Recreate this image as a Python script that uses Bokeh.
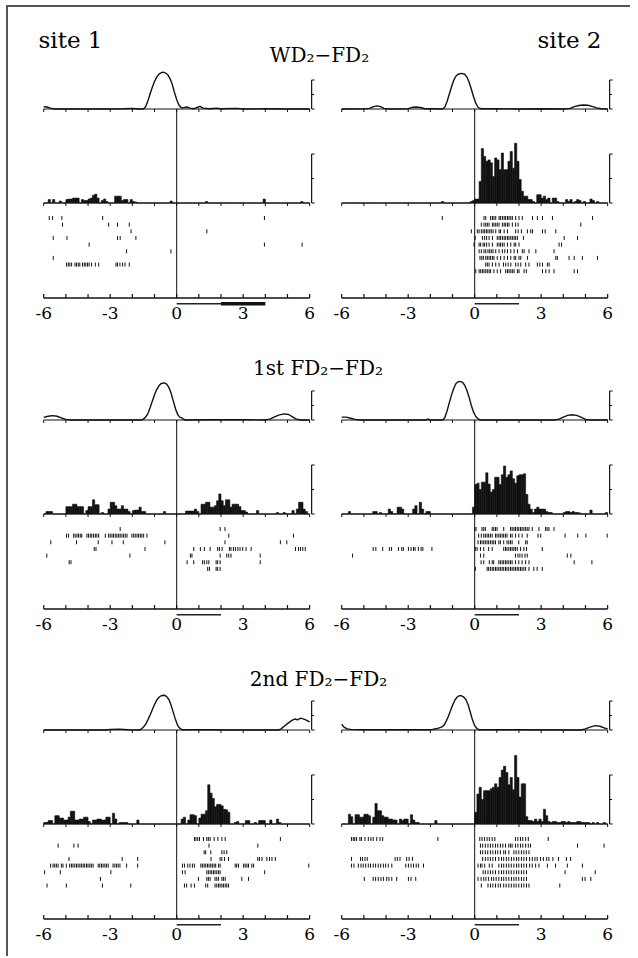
from bokeh.plotting import figure
from bokeh.models import Range1d, FixedTicker, Spacer
from bokeh.layouts import column, row
from bokeh.embed import file_html
from bokeh.resources import INLINE
from bokeh.core.properties import value

# ---------------- data ----------------
BIN_START = -6.0
BIN_WIDTH = 0.1
UNIT_TICKS = list(range(-6, 7))
LABEL_TICKS = [-6, -3, 0, 3, 6]
STIM_BAR = [0.0, 2.0]
DELAY_BAR = [2.0, 4.0]
CURVE_SCALE = 1.0
HIST_SCALE = 10.0

SITE_LABELS = ["site 1", "site 2"]
ROW_TITLES = ["WD\u2082\u2212FD\u2082", "1st FD\u2082\u2212FD\u2082", "2nd FD\u2082\u2212FD\u2082"]

# smooth traces (x in s, y in scale-bar units)
C1_X = [-6.0, -5.85, -5.7, -5.5, -4.0, -3.0, -2.4, -2.0, -1.7, -1.5, -1.4, -1.3, -1.2, -1.1, -1.0, -0.9, -0.8, -0.7, -0.6, -0.5, -0.4, -0.3, -0.2, -0.1, 0.0, 0.1, 0.2, 0.3, 0.45, 0.6, 0.8, 0.95, 1.05, 1.2, 1.5, 1.8, 2.0, 2.7, 3.0, 4.0, 5.0, 6.0]
C1_Y = [0.08, 0.07, 0.03, 0.0, 0.0, 0.0, 0.01, 0.02, 0.0, 0.0, 0.08, 0.28, 0.52, 0.75, 0.95, 1.1, 1.2, 1.25, 1.27, 1.24, 1.18, 1.05, 0.85, 0.57, 0.33, 0.14, 0.05, 0.04, 0.07, 0.03, 0.01, 0.06, 0.09, 0.03, 0.01, 0.03, 0.01, 0.02, 0.0, 0.01, 0.0, 0.0]

C2_X = [-6.0, -5.0, -4.75, -4.55, -4.4, -4.25, -4.1, -3.8, -3.0, -2.85, -2.65, -2.45, -2.25, -1.8, -1.45, -1.35, -1.25, -1.15, -1.05, -0.95, -0.85, -0.75, -0.6, -0.45, -0.35, -0.25, -0.15, -0.05, 0.05, 0.15, 0.27, 1.0, 2.0, 3.0, 4.0, 4.3, 4.5, 4.7, 4.9, 5.1, 5.3, 5.5, 5.7, 6.0]
C2_Y = [0.0, 0.01, 0.02, 0.08, 0.11, 0.08, 0.02, 0.0, 0.01, 0.05, 0.07, 0.05, 0.01, 0.01, 0.0, 0.06, 0.25, 0.5, 0.75, 0.98, 1.13, 1.2, 1.23, 1.2, 1.1, 0.92, 0.68, 0.42, 0.2, 0.06, 0.01, 0.01, 0.0, 0.01, 0.0, 0.02, 0.08, 0.12, 0.14, 0.13, 0.09, 0.04, 0.01, 0.0]

C3_X = [-6.0, -5.8, -5.6, -5.4, -5.2, -5.0, -4.8, -1.6, -1.5, -1.4, -1.3, -1.2, -1.1, -1.0, -0.9, -0.8, -0.7, -0.56, -0.45, -0.35, -0.25, -0.15, -0.05, 0.05, 0.15, 0.22, 0.3, 0.4, 1.5, 3.0, 4.0, 4.2, 4.4, 4.6, 4.85, 5.05, 5.25, 5.4, 5.6, 6.0]
C3_Y = [0.09, 0.13, 0.15, 0.13, 0.07, 0.02, 0.0, 0.0, 0.03, 0.1, 0.22, 0.42, 0.65, 0.87, 1.05, 1.18, 1.26, 1.28, 1.24, 1.12, 0.92, 0.65, 0.38, 0.18, 0.09, 0.08, 0.03, 0.0, 0.01, 0.01, 0.0, 0.03, 0.1, 0.17, 0.21, 0.19, 0.1, 0.03, 0.0, 0.0]

C4_X = [-6.0, -5.8, -5.6, -5.4, -5.2, -2.2, -2.1, -2.0, -1.45, -1.35, -1.25, -1.15, -1.05, -0.95, -0.85, -0.75, -0.65, -0.55, -0.45, -0.35, -0.25, -0.15, -0.05, 0.05, 0.15, 0.26, 3.6, 3.8, 4.0, 4.2, 4.4, 4.6, 4.8, 5.0, 5.2, 6.0]
C4_Y = [0.1, 0.1, 0.06, 0.02, 0.0, 0.0, 0.03, 0.0, 0.0, 0.08, 0.3, 0.58, 0.85, 1.08, 1.25, 1.32, 1.33, 1.3, 1.2, 1.02, 0.78, 0.5, 0.27, 0.12, 0.04, 0.0, 0.0, 0.03, 0.1, 0.16, 0.18, 0.16, 0.1, 0.02, 0.0, 0.0]

C5_X = [-6.0, -3.2, -3.0, -2.6, -2.2, -1.7, -1.6, -1.5, -1.4, -1.3, -1.2, -1.1, -1.0, -0.9, -0.8, -0.7, -0.56, -0.45, -0.35, -0.25, -0.15, -0.05, 0.05, 0.15, 0.25, 1.5, 2.5, 4.6, 4.7, 4.85, 5.0, 5.2, 5.35, 5.45, 5.6, 5.8, 6.0]
C5_Y = [0.0, 0.0, 0.02, 0.03, 0.01, 0.0, 0.03, 0.1, 0.2, 0.35, 0.52, 0.7, 0.88, 1.03, 1.13, 1.18, 1.2, 1.15, 1.05, 0.85, 0.6, 0.35, 0.15, 0.05, 0.01, 0.01, 0.0, 0.0, 0.03, 0.13, 0.22, 0.33, 0.38, 0.35, 0.41, 0.36, 0.28]

C6_X = [-6.0, -5.9, -5.75, -5.6, -5.0, -2.0, -1.9, -1.7, -1.5, -1.4, -1.3, -1.2, -1.1, -1.0, -0.9, -0.8, -0.7, -0.6, -0.5, -0.4, -0.3, -0.2, -0.1, 0.0, 0.1, 0.2, 2.0, 4.8, 5.0, 5.2, 5.45, 5.65, 5.85, 6.0]
C6_Y = [0.2, 0.1, 0.04, 0.02, 0.01, 0.01, 0.02, 0.05, 0.1, 0.15, 0.28, 0.45, 0.65, 0.85, 1.02, 1.13, 1.18, 1.18, 1.14, 1.05, 0.88, 0.62, 0.35, 0.15, 0.05, 0.01, 0.01, 0.0, 0.04, 0.1, 0.15, 0.13, 0.07, 0.04]

# histograms, 0.1 s bins from -6 to 6 (units: scale bar = 10)
H1 = [0, 0, .7, 0, .7, 0, 0, .4, 0, 0,
      .7, .8, .8, 1.0, 1.0, 1.0, 0, .7, .5, .5,
      .8, 1.0, 1.6, 1.8, 1.0, 0, .5, .8, .3, 0,
      0, 0, 1.4, 1.4, 1.4, .5, .7, .7, 0, .7,
      .3, .2, 0, 0, 0, 0, 0, 0, 0, 0,
      0, 0, 0, 0, 0, 0, 0, .4, 0, 0,
      0, 0, 0, 0, 0, 0, 0, 0, 0, 0,
      0, 0, 0, .3, 0, 0, 0, 0, 0, 0,
      0, 0, 0, 0, 0, 0, 0, 0, 0, 0,
      0, 0, 0, 0, 0, 0, 0, 0, 0, .8,
      0, 0, 0, 0, 0, 0, 0, 0, 0, 0,
      0, 0, 0, 0, 0, 0, .3, 0, 0, 0]
H2 = [0, 0, 0, 0, 0, 0, 0, 0, 0, 0,
      0, 0, 0, 0, 0, 0, 0, 0, 0, 0,
      0, 0, 0, 0, 0, 0, 0, 0, 0, 0,
      0, 0, 0, 0, 0, 0, 0, 0, 0, 0,
      0, 0, 0, 0, 0, .3, 0, 0, 0, 0,
      0, 0, 0, 0, 0, 0, 0, 0, .3, .5,
      .8, .8, 4.4, 11.1, 9.5, 8.5, 8.8, 8.2, 5.4, 9.2,
      8.8, 6.8, 10.2, 6.8, 6.8, 8.5, 10.5, 7.1, 12.2, 8.5,
      4.8, 2.4, 1.4, 1.4, .7, .7, .3, 0, 1.7, 1.7,
      1.0, 1.4, .7, 1.0, 0, 1.0, 1.0, .3, 0, 0,
      0, .7, .3, .7, 0, .3, .7, .5, 0, .3,
      0, 0, .8, .5, 0, .3, 0, 0, 0, 0]
H3 = [0, .5, .5, .5, 0, 0, 0, 0, 0, 0,
      1.5, 1.5, 1.5, 2.0, 2.0, 1.5, 1.5, 1.5, 0, .7,
      1.5, 1.5, 2.9, 1.9, 1.9, 0, .3, 0, 0, 1.0,
      2.4, 2.4, 1.7, 1.0, 1.0, 1.7, 1.0, 1.0, .5, 0,
      .7, .8, .8, 1.4, .5, .5, 0, 0, 0, 0,
      0, 0, 0, 0, .5, 0, 0, 0, 0, 0,
      0, 0, 0, 0, .6, .6, .6, .6, 1.0, .5,
      0, 2.0, 2.0, 2.4, 2.4, 1.4, 1.4, 1.7, 2.7, 4.1,
      2.7, 1.7, 2.9, 2.9, 1.4, 2.0, 2.0, 2.0, 1.5, .7,
      .7, .4, 0, 0, 0, 0, .7, 0, 0, 0,
      0, 0, 0, 0, 0, .3, 0, 0, .3, 0,
      0, 0, .7, 0, 1.0, 2.4, 2.4, 1.0, .5, 0]
H4 = [0, 0, 0, .5, 0, 0, 0, 0, 0, 0,
      0, 0, 0, 0, .5, .5, 0, .3, 0, 0,
      0, 1.0, .5, 0, 0, 1.4, 1.4, 1.0, 0, 0,
      0, 0, 1.0, 1.7, 0, 2.4, 1.0, 0, .5, .5,
      0, 0, 0, 0, 0, 0, 0, 0, 0, 0,
      0, 0, 0, 0, 0, 0, 0, 0, 0, 1.4,
      6.0, 6.3, 5.0, 6.5, 6.5, 8.4, 6.1, 4.5, 5.0, 7.5,
      7.5, 6.0, 8.0, 9.8, 7.5, 8.0, 8.8, 7.2, 6.3, 7.8,
      8.0, 8.0, 8.2, 4.0, 2.0, 1.0, .3, 1.0, 1.4, 1.0,
      1.0, 1.0, .5, .3, .3, 0, 0, 0, 0, 0,
      .3, .5, .5, .3, .5, .3, .3, .2, 0, 0,
      0, 0, .8, 0, 0, 0, 0, 0, 0, .3]
H5 = [.3, .3, .7, .7, 0, 1.7, 1.7, 1.2, 1.2, .8,
      .8, 1.4, 2.6, 2.6, .8, .8, 1.0, 1.0, 1.4, 1.4,
      .5, 0, .8, .8, 1.0, 1.0, .8, .8, 1.4, 1.4,
      0, 2.2, 1.0, 0, .3, .3, .3, .3, 0, 0,
      0, 0, .8, 0, 0, 0, 0, 0, 0, 0,
      0, 0, 0, 0, 0, 0, 0, 0, 0, 0,
      0, 0, 1.0, 1.4, 0, .8, 1.9, 1.9, 1.7, 0,
      1.2, 2.0, 2.0, 2.7, 8.0, 6.3, 5.2, 3.5, 4.0, 4.0,
      3.7, 3.0, 2.9, 2.4, 0, 0, .3, .5, 0, 0,
      0, .7, .7, 0, 0, .3, 0, .7, .7, .7,
      0, 0, .8, 0, 0, 1.0, .3, 0, 0, 0,
      0, 0, 0, 0, 0, 0, 0, 0, 0, 0]
H6 = [0, 0, 0, 2.0, 1.5, 0, 1.9, 1.9, 1.4, 1.4,
      2.0, 2.0, 1.7, 0, 1.4, 4.2, 2.7, 2.7, 1.7, 1.4,
      1.4, 1.0, 1.0, .8, .8, 0, 1.0, .7, 1.0, 1.0,
      0, 1.9, .8, .3, .3, 0, 0, 0, 0, 0,
      0, 0, .7, 0, 0, 0, 0, 0, 0, 0,
      0, 0, 0, 0, 0, 0, 0, 0, 0, 0,
      2.4, 6.1, 7.5, 5.0, 6.8, 6.8, 6.8, 7.2, 7.5, 8.2,
      7.5, 9.5, 11.0, 11.8, 10.5, 8.0, 9.5, 7.0, 14.0, 9.5,
      5.5, 8.2, 8.2, 1.5, .7, .7, .5, 1.0, .5, 1.0,
      .5, 3.0, 1.7, .5, .3, .5, .5, .3, .3, .5,
      .5, .3, .5, .3, .3, .3, .5, .5, .3, .3,
      .3, .3, 0, .3, 0, .3, 0, 0, .3, 0]

# spike rasters: one list of spike times (s) per trial, top to bottom
R1 = [[-5.75, -5.6, -5.18, -3.34, 3.96],
      [-5.15, -3.07, -2.67, -2.14],
      [-2.06, 1.36],
      [-5.57, -4.95, -2.67, -2.55, -1.84],
      [-3.95, 3.96, 5.66],
      [-2.26, -0.26],
      [-5.57],
      [-4.97, -4.89, -4.82, -4.74, -4.59, -4.52, -4.44, -4.37, -4.25, -4.17, -4.10, -4.02, -3.95, -3.84, -3.67, -3.52, -2.74, -2.67, -2.56, -2.44, -2.33, -2.14]]
R2 = [[-1.46, 0.42, 0.50, 0.72, 0.80, 0.87, 0.95, 1.10, 1.17, 1.25, 1.33, 1.40, 1.48, 1.55, 1.63, 1.70, 1.85, 2.00, 2.15, 2.61, 2.83, 3.06, 3.51, 5.32],
      [0.30, 0.42, 0.50, 0.57, 0.65, 0.80, 0.87, 0.95, 1.02, 1.10, 1.25, 1.33, 1.40, 1.48, 1.55, 1.70, 1.85, 1.96, 4.79],
      [-0.15, 0.12, 0.20, 0.30, 0.38, 0.45, 0.53, 0.60, 0.68, 0.75, 0.83, 0.95, 1.10, 1.17, 1.33, 1.48, 1.85, 1.96, 2.11, 2.38, 2.53, 2.61, 3.06, 3.18, 3.66],
      [0.02, 0.35, 0.45, 0.54, 0.65, 0.80, 1.02, 1.10, 1.17, 1.25, 1.33, 1.40, 1.48, 1.55, 1.63, 1.70, 1.78, 1.85, 1.93, 2.20, 4.04, 4.64],
      [-0.03, 0.20, 0.27, 0.38, 0.45, 0.54, 0.65, 0.80, 1.02, 1.10, 1.17, 1.25, 1.33, 1.48, 1.63, 1.78, 1.85, 2.00, 3.81, 3.92],
      [0.20, 0.30, 0.42, 0.50, 0.60, 0.68, 0.75, 0.83, 0.95, 1.10, 1.25, 1.36, 1.48, 1.63, 1.78, 1.93, 2.15, 2.23, 2.45, 2.76, 3.58],
      [0.24, 0.32, 0.39, 0.50, 0.57, 0.65, 0.72, 0.80, 0.87, 1.02, 1.17, 1.33, 1.48, 1.63, 1.78, 1.85, 2.00, 2.08, 2.38, 3.66, 3.73, 4.26, 4.49, 4.86, 5.54],
      [0.50, 0.57, 0.65, 0.80, 0.95, 1.10, 1.30, 1.40, 1.51, 1.63, 1.85, 1.96, 2.08, 2.30, 2.45, 2.83, 2.94, 3.06, 3.28, 3.36],
      [0.05, 0.20, 0.27, 0.35, 0.42, 0.50, 0.57, 0.65, 0.72, 0.87, 1.02, 1.17, 1.40, 1.48, 1.55, 1.63, 1.70, 1.78, 1.93, 2.00, 2.23, 2.33, 3.06, 3.21, 3.36, 3.58, 4.49, 4.64]]
R3 = [[-2.55, 1.96, 2.18],
      [-4.97, -4.88, -4.65, -4.58, -4.50, -4.43, -4.35, -4.28, -4.05, -3.98, -3.90, -3.83, -3.75, -3.67, -3.60, -3.52, -3.22, -3.07, -3.00, -2.92, -2.85, -2.77, -2.70, -2.62, -2.55, -2.47, -2.39, -2.32, -2.24, -2.02, -1.94, -1.87, -1.79, -1.72, -1.64, -1.57, -1.49, -1.34, 2.35, 5.27],
      [-5.68, -4.52, -3.54, -2.92, -2.41, -0.53, 2.18, 4.68, 4.97],
      [-3.72, -3.64, -1.43, 0.77, 1.07, 1.25, 1.51, 1.85, 1.93, 2.05, 2.38, 2.45, 2.56, 2.65, 2.76, 2.86, 2.98, 3.13, 3.36, 5.36, 5.50, 5.59, 5.69, 5.80],
      [-5.86, -2.11, 0.62, 0.69, 1.96, 2.26, 2.35, 2.45, 3.77],
      [-4.85, -4.77, 0.47, 0.77, 1.17, 1.25, 1.36, 1.45, 1.78, 1.85, 1.96, 3.77],
      [1.40, 1.48, 1.78, 1.85, 1.96]]
R4 = [[0.00, 0.06, 0.33, 0.41, 0.48, 0.79, 0.86, 0.94, 1.01, 1.31, 1.62, 1.69, 1.77, 1.84, 1.92, 1.99, 2.07, 2.14, 2.22, 2.30, 2.37, 2.45, 2.60, 2.90, 3.20, 3.27, 3.35, 3.58],
      [0.18, 0.30, 0.41, 0.48, 0.56, 0.63, 0.71, 0.79, 0.94, 1.01, 1.09, 1.16, 1.24, 1.31, 1.39, 1.46, 1.62, 1.69, 1.84, 1.99, 2.14, 2.37, 2.86, 2.98, 4.08, 4.65, 5.02, 5.98],
      [0.15, 0.26, 0.33, 0.41, 0.48, 0.56, 0.63, 0.71, 0.79, 0.86, 0.94, 1.09, 1.16, 1.31, 1.46, 1.54, 1.62, 1.69, 1.99, 2.30, 2.37],
      [-4.58, -4.46, -4.15, -3.85, -3.75, -3.44, -3.29, -3.22, -2.99, -2.87, -2.76, -2.69, -2.54, -2.42, -2.34, -1.93, 0.03, 0.11, 0.26, 0.41, 0.63, 0.79, 1.31, 1.39, 1.46, 1.54, 1.62, 1.69, 1.77, 1.84, 1.92, 2.07, 2.22, 2.34, 3.05],
      [-5.51, 0.26, 0.41, 1.84, 1.95, 2.04, 2.14, 2.27, 2.37, 4.18, 4.34],
      [0.29, 0.41, 0.66, 0.79, 0.86, 1.09, 1.16, 1.24, 1.31, 1.39, 1.46, 1.54, 1.62, 1.69, 1.84, 1.99, 2.14, 2.30, 2.45, 4.49, 5.29],
      [0.03, 0.56, 0.63, 0.71, 0.79, 0.86, 0.94, 1.01, 1.09, 1.16, 1.24, 1.31, 1.39, 1.46, 1.54, 1.62, 1.69, 1.77, 1.84, 1.92, 1.99, 2.07, 2.14, 2.22, 2.30, 2.45, 2.67, 2.82, 3.05]]
R5 = [[0.80, 0.87, 0.95, 1.03, 1.21, 1.36, 1.43, 1.51, 1.69, 1.86, 2.04, 2.19, 4.68],
      [-5.35, -4.64, -4.45, 1.46, 3.66],
      [1.24, 1.31, 1.54, 2.04, 2.14, 2.26],
      [-4.86, -2.46, -1.76, 1.55, 1.96, 2.04, 2.16, 2.34, 3.66, 3.74, 3.85, 4.07, 4.19, 4.30, 4.45],
      [-5.69, -5.58, -5.50, -5.43, -5.35, -5.20, -5.13, -4.98, -4.83, -4.75, -4.68, -4.60, -4.52, -4.45, -4.37, -4.30, -4.22, -4.15, -4.07, -4.00, -3.92, -3.85, -3.77, -3.54, -3.47, -3.39, -3.32, -3.24, -3.17, -3.09, -2.87, -2.79, -2.71, -2.64, -2.56, -2.26, -1.76, 0.26, 0.35, 0.50, 0.60, 0.71, 0.80, 1.09, 1.16, 1.24, 1.31, 1.39, 1.46, 1.54, 1.61, 1.69, 1.76, 1.89, 1.96, 2.64, 2.71, 2.79, 3.02, 3.09, 3.17, 3.24, 3.39, 3.47, 5.96],
      [-5.96, -5.25, -2.97, 0.26, 0.38, 1.36, 1.43, 1.51, 1.58, 1.66, 1.73, 1.81, 1.89, 1.96, 3.97],
      [-3.44, 0.98, 1.36, 1.43, 1.51, 1.73, 1.81, 1.89, 2.04, 2.11, 2.19, 2.94, 3.24],
      [-5.85, -4.98, -3.35, -2.07, 0.35, 0.45, 0.65, 0.80, 1.31, 1.40, 1.73, 1.81, 1.89, 1.96, 2.04, 2.11, 2.19, 2.26, 2.34]]
R6 = [[-5.56, -5.48, -5.41, -5.33, -5.18, -5.11, -4.95, -4.80, -4.68, -4.58, -4.42, -4.27, -4.15, -1.66, 0.23, 0.33, 0.44, 0.56, 0.66, 0.79, 0.91, 1.84, 1.95, 2.07, 2.17, 2.30, 2.42, 3.32],
      [0.26, 0.36, 0.48, 0.60, 0.71, 0.82, 0.94, 1.04, 1.16, 1.27, 1.39, 1.54, 1.62, 1.69, 1.84, 1.95, 2.07, 2.17, 2.30, 2.42, 2.52, 4.64, 5.84],
      [0.26, 0.36, 0.48, 0.59, 0.71, 0.82, 0.94, 1.04, 1.16, 1.31, 1.39, 1.54, 1.77, 1.87, 1.99, 2.11, 2.22, 2.33, 2.45],
      [-5.56, -5.15, -5.06, -4.95, -4.85, -3.59, -3.49, -3.37, -3.07, -2.96, -2.81, 0.36, 0.48, 0.60, 0.71, 0.82, 0.94, 1.09, 1.21, 1.31, 1.43, 1.54, 1.66, 1.77, 1.89, 1.99, 2.11, 2.22, 2.34, 2.48, 2.60, 2.72, 2.82, 2.97, 3.10, 3.25, 3.35, 3.53, 3.78, 4.14, 4.33],
      [-5.56, -5.45, -5.25, -5.13, -5.03, -4.92, -4.80, -4.70, -4.58, -4.47, -4.35, -4.24, -4.12, -4.02, -3.90, -3.74, -3.11, -2.99, -2.87, -2.76, -2.64, -2.54, -2.31, 0.15, 0.26, 0.33, 0.45, 0.66, 0.79, 1.09, 1.21, 1.31, 1.43, 1.54, 1.65, 1.77, 1.89, 1.99, 2.11, 2.22, 2.34, 2.48, 2.60, 2.75, 2.90, 3.28, 3.65, 4.18, 4.86],
      [0.38, 0.48, 0.60, 0.71, 0.82, 0.94, 1.09, 1.21, 1.31, 1.43, 1.54, 1.65, 1.77, 1.89, 1.99, 2.11, 2.22, 2.34, 4.08, 5.44],
      [-4.98, -4.58, -4.47, -4.35, -4.23, -4.12, -3.97, -3.87, -3.74, -3.52, -2.99, -2.87, -2.66, 0.15, 0.29, 0.41, 0.51, 0.63, 0.76, 0.86, 0.97, 1.09, 1.21, 1.31, 1.42, 1.54, 1.66, 1.77, 1.87, 1.99, 2.11, 2.22, 2.34, 4.86, 4.98, 5.24],
      [0.30, 0.60, 0.71, 0.82, 0.94, 1.06, 1.16, 1.31, 1.42, 1.54, 1.65, 1.77, 1.87, 1.99, 2.11, 2.22, 2.34, 2.45, 3.84]]

PANELS = [
    [(C1_X, C1_Y, H1, R1, True), (C2_X, C2_Y, H2, R2, False)],
    [(C3_X, C3_Y, H3, R3, False), (C4_X, C4_Y, H4, R4, False)],
    [(C5_X, C5_Y, H5, R5, False), (C6_X, C6_Y, H6, R6, False)],
]

# ---------------- layout / style ----------------
FONT = "DejaVu Serif"
S = 22.17                 # px per second
X0, X1 = -6.1, 6.4
FW = round((X1 - X0) * S)
FH = 237
CB, CU = 39.5, 29.0       # trace baseline (px from frame top), px per scale bar
HB, HU = 133.5, 49.0      # histogram baseline, px per scale bar
RT, RS = 148.5, 6.65      # first raster row, px between rows
AY, SY = 228.5, 234.3     # axis line, stimulus bar
LEFT_B = [33, 19]
RIGHT_B = 2
TITLE_W = 622
INK = "#111111"


def panel(cx, cy, hist, raster, delay, col):
    p = figure(frame_width=FW, frame_height=FH, title=None,
               x_range=Range1d(X0, X1), y_range=Range1d(FH, 0),
               output_backend="svg", toolbar_location=None, y_axis_location=None,
               min_border_left=LEFT_B[col], min_border_right=RIGHT_B,
               min_border_top=0, min_border_bottom=20,
               outline_line_color=None, background_fill_color="white",
               border_fill_color="white")
    p.grid.grid_line_color = None
    p.extra_y_ranges = {
        "curve": Range1d((CB - FH) / CU * CURVE_SCALE, CB / CU * CURVE_SCALE),
        "hist": Range1d((HB - FH) / HU * HIST_SCALE, HB / HU * HIST_SCALE),
        "trial": Range1d((FH - RT) / RS, -RT / RS),
    }
    lo, hi = UNIT_TICKS[0], UNIT_TICKS[-1]
    n = len(UNIT_TICKS)
    # trace baseline with downward unit ticks
    p.segment(x0=[lo], y0=[CB], x1=[hi], y1=[CB], line_color=INK, line_width=1)
    p.segment(x0=UNIT_TICKS, y0=[CB] * n, x1=UNIT_TICKS, y1=[CB + 3] * n, line_color=INK, line_width=1)
    # smoothed trace
    p.line(cx, cy, y_range_name="curve", line_color=INK, line_width=1.4)
    # histogram
    edges = [BIN_START + i * BIN_WIDTH for i in range(len(hist) + 1)]
    p.quad(left=edges[:-1], right=edges[1:], bottom=[0] * len(hist), top=hist,
           y_range_name="hist", fill_color=INK, line_color=INK, line_width=0.6)
    p.segment(x0=[lo], y0=[HB], x1=[hi], y1=[HB], line_color=INK, line_width=1)
    p.segment(x0=UNIT_TICKS, y0=[HB] * n, x1=UNIT_TICKS, y1=[HB + 3] * n, line_color=INK, line_width=1)
    # scale brackets
    bx = hi + 2.0 / S
    tl = 3.0 / S
    for rng, sc in (("curve", CURVE_SCALE), ("hist", HIST_SCALE)):
        p.segment(x0=[bx, bx, bx, bx], y0=[0, 0, sc, sc / 2], x1=[bx, bx + tl, bx + tl, bx + tl * 0.8],
                  y1=[sc, 0, sc, sc / 2], y_range_name=rng, line_color=INK, line_width=1.2)
    # raster
    xs, y0, y1 = [], [], []
    for i, times in enumerate(raster):
        for t in times:
            xs.append(t); y0.append(i - 0.3); y1.append(i + 0.3)
    p.segment(x0=xs, y0=y0, x1=xs, y1=y1, y_range_name="trial", line_color=INK, line_width=1)
    # event line at 0
    p.segment(x0=[0], y0=[CB], x1=[0], y1=[AY], line_color=INK, line_width=1)
    # time axis line with upward unit ticks
    p.segment(x0=[lo], y0=[AY], x1=[hi], y1=[AY], line_color=INK, line_width=1.3)
    p.segment(x0=UNIT_TICKS, y0=[AY] * n, x1=UNIT_TICKS, y1=[AY - 4] * n, line_color=INK, line_width=1.2)
    # stimulus / delay bars
    p.segment(x0=[STIM_BAR[0]], y0=[SY], x1=[STIM_BAR[1]], y1=[SY], line_color="#222222", line_width=1.6)
    if delay:
        p.segment(x0=[DELAY_BAR[0]], y0=[SY], x1=[DELAY_BAR[1]], y1=[SY], line_color=INK, line_width=3.5)
    ax = p.xaxis[0]
    ax.ticker = FixedTicker(ticks=LABEL_TICKS)
    ax.major_label_overrides = {t: str(t) for t in LABEL_TICKS}
    ax.axis_line_color = None
    ax.major_tick_line_color = None
    ax.minor_tick_line_color = None
    ax.major_tick_out = 0
    ax.major_tick_in = 0
    ax.major_label_standoff = 0
    ax.major_label_text_font = FONT
    ax.major_label_text_font_size = "17px"
    ax.major_label_text_color = "black"
    return p


def title_fig(h, texts):
    t = figure(width=TITLE_W, height=h, title=None,
               x_range=Range1d(0, TITLE_W), y_range=Range1d(h, 0),
               x_axis_location=None, y_axis_location=None, toolbar_location=None,
               output_backend="svg", min_border=0, min_border_left=0, min_border_right=0,
               min_border_top=0, min_border_bottom=0, outline_line_color=None,
               background_fill_color="white", border_fill_color="white")
    t.grid.grid_line_color = None
    for x, y, s, size, align in texts:
        t.text(x=[x], y=[y], text=[s], text_font=value(FONT), text_font_size=value(size),
               text_align=align, text_baseline="middle", text_color="black")
    return t


# text anchors: vertical middle of the text line
title_specs = [
    (62, [(30, 32, SITE_LABELS[0], "23px", "left"),
          (593, 32, SITE_LABELS[1], "23px", "right"),
          (311, 47, ROW_TITLES[0], "20px", "center")]),
    (54, [(309.5, 41, ROW_TITLES[1], "20px", "center")]),
    (53, [(310, 41, ROW_TITLES[2], "20px", "center")]),
]

children = []
for r in range(3):
    h, texts = title_specs[r]
    children.append(title_fig(h, texts))
    children.append(row(*[panel(*PANELS[r][c], c) for c in range(2)]))
children.append(Spacer(width=10, height=9))

layout = column(*children, styles={"margin-left": "6px", "margin-top": "5px",
                                   "border-top": "2px solid #555555",
                                   "border-left": "2px solid #555555"})

open("out.html", "w").write(file_html(layout, INLINE))
